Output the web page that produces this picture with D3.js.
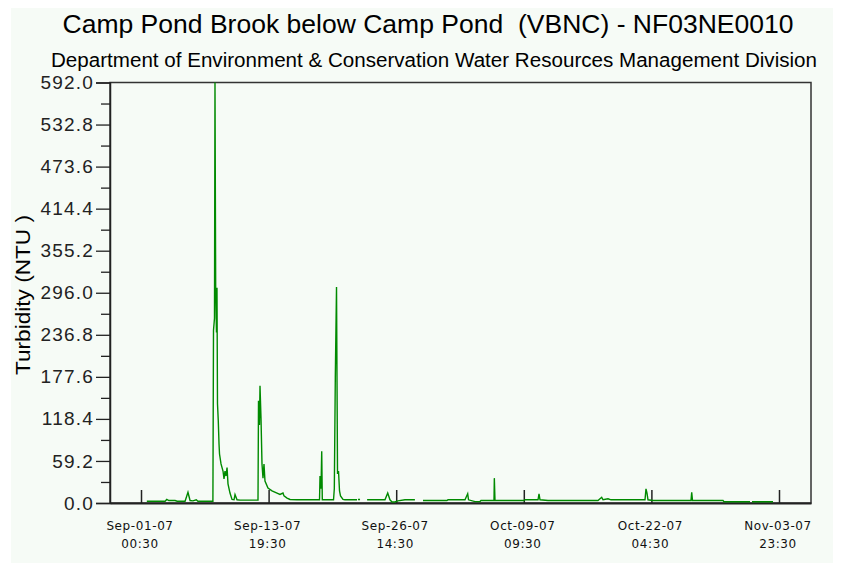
<!DOCTYPE html>
<html>
<head>
<meta charset="utf-8">
<script src="https://cdn.jsdelivr.net/npm/d3@7"></script>
<style>
  body { margin: 0; background: #ffffff; }
  svg text { font-family: "Liberation Sans", Arial, sans-serif; }
</style>
</head>
<body>
<div id="chart"></div>
<script>
// hours after Sep-01-07 00:30, null = gap in record
const hoursFromStart = [
  14, 58, 62, 67, 82, 87, 106, 113, 118, 125, 133, 137, 173,
  174.4, 176.8, 178, 179.7, 181.6, 182.8, 184, 185.9, 187.7, 188.9, 192.5, 197.3,
  199.7, 202.1, 204.5, 207, 209.3, 214.1, 219, 223.8, 226.2, 231, 238.2, 281.5,
  282.7, 285, 286.3, 288.7, 291.1, 293.5, 295.9, 298.3, 305.5, 315.2, 327.2,
  334.4, 341.6, 344, 351.3, 358.5, 375.3, 429.5, 430.7, 433.1, 434.8, 436.2,
  463.2, 465.1, 467.5, 470.4, 472.8, 475.2, 477.6, 480, 486, 490.8, 519.7,
  520.8, 522, 527, 535, 544, 587, 593.6, 599, 604, 611, 618, 635, 659, 668,
  678.5, 736, 738.6, 779.5, 786, 788, 803.6, 815.6, 818, 849.3, 850.1, 851.7,
  921.5, 923.9, 955.2, 957.6, 960, 979.2, 1099.5, 1108.4, 1111.6, 1123.6,
  1130.8, 1212.6, 1215, 1217.4, 1219.8, 1231.9, 1323.3, 1325, 1326.9, 1400.3,
  1402.7, 1465.3, 1467.5, 1470, 1520.6
];
const turbidity = [
  2.5, 2.5, 5, 3.5, 3.5, 2.5, 2.5, 15, 3.5, 3, 4.5, 2.5, 2.5,
  243, 260, 592, 300, 240, 303, 140, 116, 83, 69, 55, 45,
  34, 45, 38, 50, 27, 14, 5, 4.5, 12, 4.5, 4, 4,
  144, 110, 165, 120, 55, 35, 55, 31, 21, 17, 14,
  12, 14, 10, 7, 5, 4.5, 4.5, 38, 20, 73, 4.5,
  4.5, 20, 177, 304, 41, 45, 17, 10, 5, 4.5, 4.5,
  null, 5, 5, null, 4.5, 4.5, 14, 4.5, 1.5, 1.5, 3, 4.5, 4.5, null,
  3.5, 3.5, 4.5, 4.5, 13, 4.5, 2, 2, 3.5, 3.5, 35, 3.5,
  3.5, 4.5, 4.5, 13, 4.5, 3.5, 3.5, 8, 4.5, 6,
  4.5, 4.5, 20, 14, 4.5, 3.5, 3.5, 15, 3.5, 3.5,
  1.8, 1.8, null, 1.8, 1.8
];
const yTicks = [0, 59.2, 118.4, 177.6, 236.8, 296.0, 355.2, 414.4, 473.6, 532.8, 592.0];
const xTickHours = [0, 307, 614, 921, 1228, 1535];
const titleText = "Camp Pond Brook below Camp Pond  (VBNC) - NF03NE0010";
const subtitleText = "Department of Environment & Conservation Water Resources Management Division";
const yLabel = "Turbidity (NTU )";

const start = Date.UTC(2007, 8, 1, 0, 30);
const toDate = h => new Date(start + h * 3600 * 1000);
const data = hoursFromStart.map((h, i) => ({ t: toDate(h), v: turbidity[i] }));

const W = 841, H = 563;
const plotLeft = 110, plotRight = 811, plotTop = 82.5, plotBottom = 503;

const svg = d3.select("#chart").append("svg")
  .attr("width", W).attr("height", H);

// panel
svg.append("rect")
  .attr("x", 11).attr("y", 8).attr("width", 822).attr("height", 555)
  .attr("fill", "#f6fbf6");

var x = d3.scaleUtc()
  .domain([toDate(-74.6), toDate(1612)])
  .range([plotLeft, plotRight]);
var y = d3.scaleLinear()
  .domain([0, 592])
  .range([plotBottom, plotTop]);

// titles
svg.append("text")
  .attr("x", 428).attr("y", 33)
  .attr("text-anchor", "middle")
  .attr("font-size", 26)
  .attr("textLength", 731).attr("lengthAdjust", "spacingAndGlyphs")
  .style("white-space", "pre")
  .text(titleText);
svg.append("text")
  .attr("x", 434).attr("y", 67)
  .attr("text-anchor", "middle")
  .attr("font-size", 19.5)
  .attr("textLength", 766).attr("lengthAdjust", "spacingAndGlyphs")
  .text(subtitleText);
svg.append("text")
  .attr("transform", "translate(30,295) rotate(-90)")
  .attr("text-anchor", "middle")
  .attr("font-size", 20)
  .attr("textLength", 160).attr("lengthAdjust", "spacingAndGlyphs")
  .text(yLabel);

// frame
svg.append("rect")
  .attr("x", plotLeft).attr("y", plotTop)
  .attr("width", plotRight - plotLeft).attr("height", plotBottom - plotTop)
  .attr("fill", "none")
  .attr("stroke", "#333").attr("stroke-width", 1.5);

// minor y ticks
svg.append("g")
  .attr("transform", "translate(" + plotLeft + ",0)")
  .call(d3.axisLeft(y).tickValues(yTicks.slice(1).map(t => t - 29.6)).tickSize(9).tickFormat(""))
  .call(g => g.select(".domain").remove())
  .selectAll("line").attr("stroke", "#222").attr("stroke-width", 1.3);

// major y ticks
svg.append("g")
  .attr("transform", "translate(" + plotLeft + ",0)")
  .call(d3.axisLeft(y).tickValues(yTicks).tickSize(14).tickPadding(2).tickFormat(d3.format(".1f")))
  .call(g => g.select(".domain").attr("stroke", "#222").attr("stroke-width", 1.5))
  .call(g => g.selectAll("line").attr("stroke", "#222").attr("stroke-width", 1.3))
  .call(g => g.selectAll("text")
    .attr("font-family", "Liberation Sans, Arial, sans-serif")
    .attr("font-size", 19)
    .attr("letter-spacing", 1.2)
    .attr("fill", "#222"));

// x axis, ticks pointing up into the plot
var fmtDay = d3.utcFormat("%b-%d-%y"), fmtTime = d3.utcFormat("%H:%M");
svg.append("g")
  .attr("transform", "translate(0," + plotBottom + ")")
  .call(d3.axisBottom(x).tickValues(xTickHours.map(toDate)).tickSizeInner(-13).tickSizeOuter(0).tickFormat(""))
  .call(g => g.select(".domain").attr("stroke", "#222").attr("stroke-width", 1.8))
  .call(g => g.selectAll("line").attr("stroke", "#222").attr("stroke-width", 1.5));

var xl = svg.append("g").selectAll("text")
  .data(xTickHours.map(toDate))
  .enter().append("text")
  .attr("x", d => x(d) - 1)
  .attr("y", 530)
  .attr("text-anchor", "middle")
  .style("font-family", "DejaVu Sans, sans-serif")
  .attr("font-size", 12)
  .attr("letter-spacing", 0.6)
  .attr("fill", "#111");
xl.append("tspan").attr("x", d => x(d) - 1).text(d => fmtDay(d));
xl.append("tspan").attr("x", d => x(d) - 1).attr("dy", 18).text(d => fmtTime(d));

// turbidity trace
var line = d3.line()
  .defined(d => d.v != null)
  .x(d => x(d.t))
  .y(d => y(d.v));

svg.append("path")
  .datum(data)
  .attr("fill", "none")
  .attr("stroke", "#008a00")
  .attr("stroke-width", 1.4)
  .attr("d", line);
</script>
</body>
</html>
